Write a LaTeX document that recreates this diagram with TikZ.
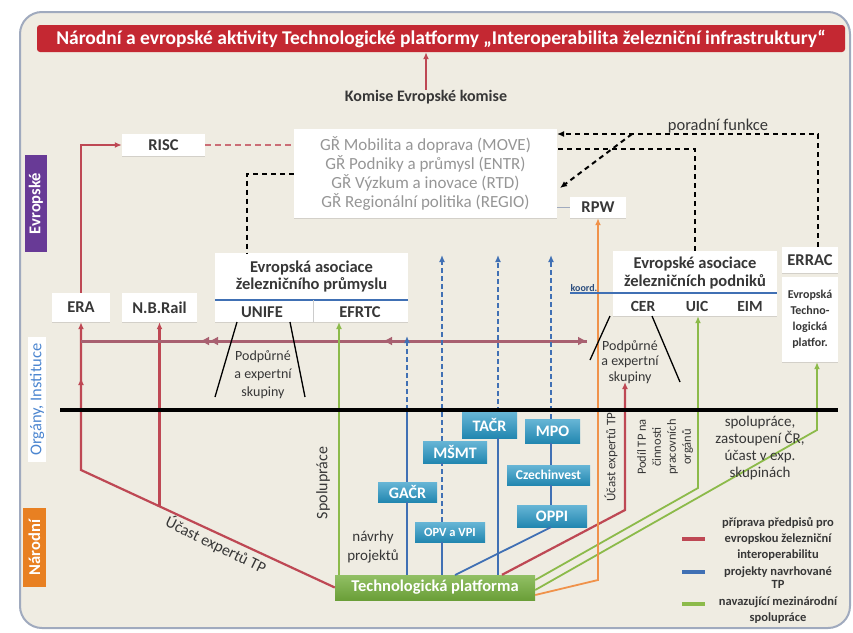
\documentclass[tikz,border=0pt]{standalone}
\usepackage{fontspec}
\setmainfont{Carlito}
\usepackage{tikz}
\usetikzlibrary{arrows.meta,positioning,shadows}

\definecolor{panelbg}{RGB}{239,236,226}
\definecolor{bordergray}{RGB}{160,170,190}
\definecolor{titlered}{RGB}{196,40,50}
\definecolor{linered}{RGB}{190,72,84}
\definecolor{linemauve}{RGB}{168,96,112}
\definecolor{lineblue}{RGB}{64,112,180}
\definecolor{linegreen}{RGB}{140,186,74}
\definecolor{lineorange}{RGB}{240,146,74}
\definecolor{boxteal}{RGB}{38,150,196}
\definecolor{tpgreen}{RGB}{118,176,62}
\definecolor{evpurple}{RGB}{104,58,150}
\definecolor{narorange}{RGB}{232,128,34}
\definecolor{orgblue}{RGB}{76,134,208}
\definecolor{grtext}{RGB}{150,150,150}
\definecolor{labeltext}{RGB}{55,55,55}

\newcommand{\fsz}[2]{\fontsize{#1}{#2}\selectfont}

\begin{document}
\begin{tikzpicture}[
    x=1pt,y=-1pt,
    >={Latex[length=7pt,width=6pt]},
    panel/.style={rounded corners=22pt,fill=panelbg,draw=bordergray,line width=2pt},
    titlebar/.style={rectangle,rounded corners=3pt,fill=titlered,text=white,font=\fsz{19.5}{22}\bfseries,minimum width=808pt,minimum height=27pt,inner sep=0pt},
    box/.style={rectangle,fill=white,align=center,inner sep=0pt,text=labeltext,font=\fsz{16.5}{18}\bfseries,drop shadow={opacity=0.25,shadow xshift=0pt,shadow yshift=-1.2pt}},
    tbox/.style={rectangle,top color=boxteal!70!white,bottom color=boxteal!90!black,text=white,align=center,inner sep=0pt,font=\fsz{16}{18}\bfseries},
    vlabel/.style={rectangle,rotate=90,inner sep=0pt,font=\fsz{16.5}{18}\bfseries},
    txt/.style={align=center,text=labeltext,inner sep=0pt,font=\fsz{14}{17}},
    legtxt/.style={align=center,text=labeltext,inner sep=0pt,font=\fsz{12.5}{16}\bfseries},
    swatch/.style={rectangle,minimum width=23pt,minimum height=4pt,inner sep=0pt},
    rline/.style={draw=linered,line width=2.2pt},
    hline/.style={draw=linemauve,line width=3pt,>={Latex[length=9pt,width=9pt]}},
    bline/.style={draw=lineblue,line width=1.8pt},
    bdash/.style={bline,dash pattern=on 5pt off 3pt},
    gline/.style={draw=linegreen,line width=1.8pt},
    oline/.style={draw=lineorange,line width=1.8pt},
    dline/.style={draw=black,line width=2pt,dash pattern=on 5pt off 4pt},
    rdash/.style={draw=linered!80!white,line width=2.2pt,dash pattern=on 6pt off 4pt},
    sline/.style={draw=black,line width=1.3pt},
    dtip/.style={-{Latex[length=9pt,width=9pt]Latex[length=9pt,width=9pt]}}
]
    \fill[white] (0,0) rectangle (853,632);
    \useasboundingbox (0,0) rectangle (853,632);
    \draw[panel] (20,12) rectangle (850,628);

    % Nodes
    \node[titlebar] (title) at (441,38.5) {Národní a evropské aktivity Technologické platformy „Interoperabilita železniční infrastruktury“};
    \node[txt,font=\fsz{16}{18}\bfseries] (komise) at (426,97) {Komise Evropské komise};

    \node[box,minimum width=263pt,minimum height=89pt,font=\fsz{17}{18.7},text=grtext] (gr) at (425.5,173.5)
        {GŘ Mobilita a doprava (MOVE)\\GŘ Podniky a průmysl (ENTR)\\GŘ Výzkum a inovace (RTD)\\GŘ Regionální politika (REGIO)};
    \node[box,minimum width=83pt,minimum height=22pt] (risc) at (163.5,145) {RISC};
    \node[box,minimum width=56pt,minimum height=21pt] (rpw) at (598,207.5) {RPW};

    \node[box,minimum width=58pt,minimum height=29pt] (era) at (81,307.5) {ERA};
    \node[box,minimum width=75pt,minimum height=29pt] (nbrail) at (159.5,307.5) {N.B.Rail};

    \node[box,minimum width=193pt,minimum height=69pt] (unifebox) at (311.5,287.5) {};
    \node[txt,font=\fsz{16.5}{17}\bfseries] (unifetit) at (311.5,276.5) {Evropská asociace\\železničního průmyslu};
    \node[txt,font=\fsz{16.5}{18}\bfseries] (unife) at (262,312) {UNIFE};
    \node[txt,font=\fsz{16.5}{18}\bfseries] (efrtc) at (360,312) {EFRTC};

    \node[box,minimum width=164pt,minimum height=65pt] (cerbox) at (695,283.5) {};
    \node[txt,font=\fsz{16.5}{18.5}\bfseries] (certit) at (695,273) {Evropské asociace\\železničních podniků};
    \node[txt,font=\fsz{15.5}{17}\bfseries] (cer) at (643,306) {CER};
    \node[txt,font=\fsz{15.5}{17}\bfseries] (uic) at (697,306) {UIC};
    \node[txt,font=\fsz{15.5}{17}\bfseries] (eim) at (750,306) {EIM};
    \node[txt,font=\fsz{10}{11}\bfseries,text=lineblue!70!black] (koord) at (584,288) {koord.};

    \node[box,minimum width=56pt,minimum height=26pt] (errac) at (810,260) {ERRAC};
    \node[box,minimum width=56pt,minimum height=85pt,font=\fsz{12}{16}\bfseries] (etp) at (810,319.5) {Evropská\\Techno-\\logická\\platfor.};

    \node[vlabel,fill=evpurple,text=white,minimum width=97pt,minimum height=22pt] (lbeu) at (36,203.5) {Evropské};
    \node[vlabel,fill=white,text=orgblue,font=\fsz{16.5}{18},minimum width=125pt,minimum height=18pt] (lborg) at (37,399.5) {Orgány, Instituce};
    \node[vlabel,fill=narorange,text=white,minimum width=79pt,minimum height=23pt] (lbnar) at (34.5,547.5) {Národní};

    \node[tbox,minimum width=55pt,minimum height=26pt] (tacr) at (489.5,425) {TAČR};
    \node[tbox,minimum width=55pt,minimum height=24pt] (mpo) at (552.5,431) {MPO};
    \node[tbox,minimum width=64pt,minimum height=22pt] (msmt) at (455,452) {MŠMT};
    \node[tbox,minimum width=59pt,minimum height=20pt] (gacr) at (407.5,492) {GAČR};
    \node[tbox,minimum width=83pt,minimum height=20pt,font=\fsz{13.5}{15}\bfseries] (czech) at (548.5,475) {Czechinvest};
    \node[tbox,minimum width=70pt,minimum height=20pt,font=\fsz{12.5}{14}\bfseries] (opv) at (450,532) {OPV a VPI};
    \node[tbox,minimum width=70pt,minimum height=22pt] (oppi) at (552,516) {OPPI};

    \node[rectangle,top color=tpgreen!80!white,bottom color=tpgreen!90!black,text=white,font=\fsz{16.5}{18}\bfseries,minimum width=200pt,minimum height=25pt,inner sep=0pt] (tp) at (435,587.5) {Technologická platforma};

    % Coordinates
    \coordinate (rbend) at (81,470);
    \coordinate (rmid) at (81,378);
    \coordinate (nbfoot) at (159.5,506);
    \coordinate (hl) at (81,341);
    \coordinate (hr) at (587,341);
    \coordinate (hm) at (383,341);
    \coordinate (hd) at (200,341);
    \coordinate (b1top) at (407,336);
    \coordinate (b1cut) at (407,410);
    \coordinate (b2top) at (442,255);
    \coordinate (b3top) at (498,255);
    \coordinate (b4top) at (551,255);
    \coordinate (b4end) at (455,575);
    \coordinate (r3b) at (625,510);
    \coordinate (r3c) at (625,382);
    \coordinate (obend) at (598,580);
    \coordinate (g1top) at (339,322);
    \coordinate (g2bend) at (698,488);
    \coordinate (g3bend) at (817,430);
    \coordinate (d1end) at (557,134);
    \coordinate (d2end) at (557,149);
    \coordinate (d3start) at (632,134);
    \coordinate (d3end) at (560,188);
    \coordinate (d4end) at (247,253);

    % Arrows
    \draw[rline,->] (komise.north) -- (komise.north |- title.south);
    \draw[rline,->] (era.north) |- (risc.west);
    \draw[rdash] (risc.east) -- (risc.east -| gr.west);
    \draw[draw=bordergray,line width=1.5pt] (gr.east |- rpw.west) -- (rpw.west);

    \draw[dline,->] ([xshift=8pt]errac.north) |- (d1end);
    \draw[dline] (cerbox.north) |- (d2end);
    \draw[dline,->] (d3start) -- (d3end);
    \draw[dline] (gr.west) -| (d4end);

    \draw[rline,->] (tp.west) -- (rbend) -- (era.south);
    \draw[rline,->] (rbend) -- (rmid);
    \draw[rline,->] (nbfoot) -- (nbrail.south);
    \draw[hline,->] (hl) -- (hr);
    \draw[hline,->] (hr) -- (hm);
    \draw[hline,dtip] (hm) -- (hd);
    \draw[rline,->] ([xshift=67pt]tp.north) -- (r3b) -- (r3c);

    \draw[bline] (tp.north -| b1top) -- (gacr.south -| b1top);
    \draw[bline] (gacr.north -| b1top) -- (b1cut);
    \draw[bdash,->] (b1cut) -- (b1top);
    \draw[bline] (tp.north -| b2top) -- (opv.south -| b2top);
    \draw[bdash] (opv.north -| b2top) -- (msmt.south -| b2top);
    \draw[bdash,->] (msmt.north -| b2top) -- (b2top);
    \draw[bline] (tp.north -| b3top) -- (tacr.south -| b3top);
    \draw[bdash,->] (tacr.north -| b3top) -- (b3top);
    \draw[bdash,->] (mpo.north -| b4top) -- (b4top);
    \draw[bline] (mpo.south -| b4top) -- (czech.north -| b4top);
    \draw[bline] (czech.south -| b4top) -- (oppi.north -| b4top);
    \draw[bline] (oppi.south -| b4top) -- (b4end);

    \draw[gline,->] (tp.north -| g1top) -- (g1top);
    \draw[gline,->] ([yshift=7.5pt]tp.east) -- (g2bend) -- (cerbox.south -| g2bend);
    \draw[gline,->] ([yshift=-2.5pt]tp.east) -- (g3bend) -- (etp.south -| g3bend);
    \draw[oline,->] ([yshift=-7.5pt]tp.east) -- (obend) -- (rpw.south);

    % Separators
    \draw[draw=lineblue,line width=2pt] (unifebox.west |- 0,300) -- (unifebox.east |- 0,300);
    \draw[draw=gray!40,line width=1pt] (313,300) -- (313,322);
    \draw[draw=lineblue,line width=2pt] (570,293) -- (cerbox.east |- 0,293);
    \draw[sline] (237,322) -- (215,397);
    \draw[sline] (290,322) -- (305,397);
    \draw[sline] (610,316) -- (590,360);
    \draw[sline] (652,316) -- (680,382);
    \draw[line width=4pt] (60,410) -- (838,410);

    % Labels
    \node[txt,font=\fsz{16.5}{18}] (poradni) at (718,126) {poradní funkce};
    \node[txt,font=\fsz{14}{18}] (podl) at (263,375) {Podpůrné\\a expertní\\skupiny};
    \node[txt,font=\fsz{14}{15.5}] (podr) at (630,362) {Podpůrné\\a expertní\\skupiny};
    \node[txt,rotate=90,font=\fsz{16}{18}] (spol) at (323,483) {Spolupráce};
    \node[txt,font=\fsz{15}{19}] (navrhy) at (373,547) {návrhy\\projektů};
    \node[txt,rotate=-26,font=\fsz{16}{18}] (ucast) at (216,545) {Účast expertů TP};
    \node[txt,rotate=90,font=\fsz{13}{15}] (ucast2) at (611,457) {Účast expertů TP};
    \node[txt,rotate=90,font=\fsz{12.5}{15}] (podil) at (665,447) {Podíl TP na\\činnosti\\pracovních\\orgánů};
    \node[txt,font=\fsz{15}{17}] (spolex) at (760,448) {spolupráce,\\zastoupení ČR,\\účast v exp.\\skupinách};

    % Legend
    \node[swatch,fill=linered] (legred) at (693.5,539) {};
    \node[swatch,fill=lineblue] (legblue) at (693.5,572) {};
    \node[swatch,fill=linegreen] (leggreen) at (693.5,604) {};
    \node[legtxt] (legredt) at (778,538.5) {příprava předpisů pro\\evropskou železniční\\interoperabilitu};
    \node[legtxt,font=\fsz{12.5}{13}\bfseries] (legbluet) at (778,578) {projekty navrhované\\TP};
    \node[legtxt] (leggreent) at (778,610) {navazující mezinárodní\\spolupráce};
\end{tikzpicture}
\end{document}
